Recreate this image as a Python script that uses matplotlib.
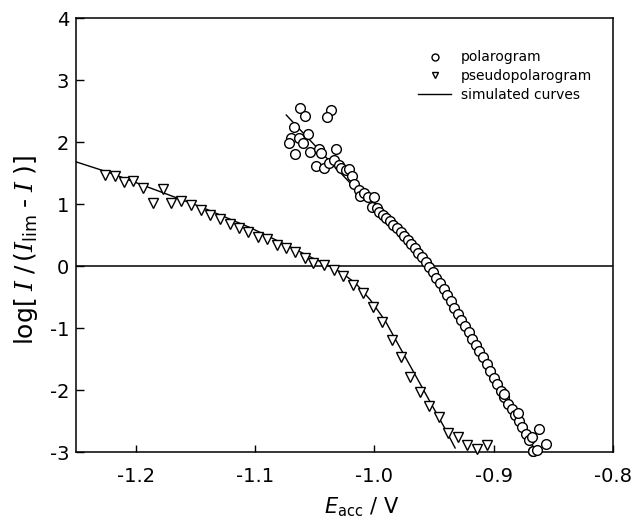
import matplotlib
matplotlib.use('Agg')
import matplotlib.pyplot as plt
from matplotlib.lines import Line2D

plt.rcParams.update({
    'font.family': 'DejaVu Sans',
    'axes.unicode_minus': False,
    'mathtext.fontset': 'custom',
    'mathtext.rm': 'DejaVu Sans',
    'mathtext.it': 'DejaVu Sans:italic',
    'mathtext.cal': 'DejaVu Serif:italic',
    'mathtext.bf': 'DejaVu Sans:bold',
    'mathtext.sf': 'DejaVu Sans',
})

# ---- data: pseudopolarogram (triangles) ----
pseudo_E = [-1.2258, -1.2174, -1.2096, -1.2021, -1.1937, -1.1854, -1.1775, -1.1700,
            -1.1616, -1.1538, -1.1455, -1.1374, -1.1296, -1.1212, -1.1135, -1.1056,
            -1.0976, -1.0897, -1.0817, -1.0738, -1.0661, -1.0581, -1.0516, -1.0418,
            -1.0340, -1.0259, -1.0176, -1.0098, -1.0014, -0.9936, -0.9855, -0.9777,
            -0.9699, -0.9618, -0.9540, -0.9462, -0.9379, -0.9300, -0.9220, -0.9139,
            -0.9055]
pseudo_log = [1.468, 1.456, 1.350, 1.371, 1.263, 1.011, 1.237, 1.021,
              1.053, 0.984, 0.903, 0.823, 0.758, 0.677, 0.608, 0.553,
              0.473, 0.431, 0.339, 0.298, 0.218, 0.137, 0.053, 0.016,
              -0.065, -0.161, -0.306, -0.440, -0.656, -0.898, -1.194, -1.473,
              -1.795, -2.027, -2.253, -2.431, -2.694, -2.758, -2.887, -2.944,
              -2.887]

# simulated curve for pseudopolarogram
pseudo_sim_E = [-1.2500, -1.2216, -1.1881, -1.1455, -1.1037, -1.0702, -1.0535,
                -1.0410, -1.0284, -1.0159, -1.0033, -0.9908, -0.9783, -0.9657,
                -0.9532, -0.9406, -0.9323]
pseudo_sim_log = [1.68, 1.503, 1.261, 0.955, 0.616, 0.306, 0.145,
                  0.032, -0.097, -0.274, -0.548, -0.887, -1.323, -1.758,
                  -2.194, -2.629, -2.935]

# ---- data: polarogram (circles) ----
polar_E = [-1.0619, -1.0362, -1.0577, -1.0399, -1.0677, -1.0558, -1.0697, -1.0633,
           -1.0717, -1.0600, -1.0661, -1.0543, -1.0466, -1.0320, -1.0446, -1.0493,
           -1.0418, -1.0376, -1.0334, -1.0293, -1.0278, -1.0237, -1.0215,
           -1.0186, -1.0167, -1.0131, -1.0119, -1.0084, -1.0056, -1.0000, -1.0019,
           -0.9981, -0.9958, -0.9925,
           -0.990, -0.987, -0.984, -0.981, -0.978, -0.975, -0.972, -0.969, -0.966,
           -0.963, -0.960, -0.957, -0.954, -0.951, -0.948, -0.945, -0.942, -0.939,
           -0.936, -0.933, -0.930, -0.927, -0.924, -0.921, -0.918, -0.915, -0.912,
           -0.909, -0.906, -0.903, -0.900, -0.897, -0.894, -0.891, -0.888, -0.885,
           -0.882, -0.879, -0.876, -0.873, -0.870, -0.867,
           -0.8913, -0.8793, -0.8620, -0.8559, -0.8676, -0.8668, -0.8635]
polar_log = [2.544, 2.516, 2.419, 2.408, 2.247, 2.124, 2.069, 2.069,
             1.989, 1.989, 1.806, 1.844, 1.882, 1.887, 1.827, 1.613,
             1.576, 1.666, 1.710, 1.629, 1.585, 1.548, 1.560,
             1.452, 1.318, 1.226, 1.129, 1.173, 1.108, 1.108, 0.956,
             0.931, 0.876, 0.823,
             0.77, 0.72, 0.66, 0.61, 0.55, 0.49, 0.42, 0.36, 0.29,
             0.21, 0.14, 0.06, -0.02, -0.10, -0.19, -0.28, -0.37, -0.47,
             -0.57, -0.67, -0.77, -0.87, -0.97, -1.07, -1.17, -1.27, -1.37,
             -1.47, -1.58, -1.69, -1.80, -1.91, -2.02, -2.12, -2.22, -2.31,
             -2.40, -2.50, -2.60, -2.71, -2.80, -2.98,
             -2.065, -2.366, -2.634, -2.871, -2.753, -2.984, -2.968]

# simulated curve for polarogram
polar_sim_E = [-1.0738, -1.0462, -1.0211, -1.0000, -0.9875, -0.9749, -0.9624,
               -0.9540, -0.9457, -0.9331, -0.9206, -0.9080, -0.8955, -0.8829,
               -0.8704, -0.8654]
polar_sim_log = [2.435, 1.871, 1.355, 0.935, 0.694, 0.452, 0.177,
                 -0.048, -0.306, -0.726, -1.161, -1.581, -2.000, -2.403,
                 -2.790, -2.968]

xticks = [-1.2, -1.1, -1.0, -0.9, -0.8]
xticklabels = ['-1.2', '-1.1', '-1.0', '-0.9', '-0.8']
yticks = [-3, -2, -1, 0, 1, 2, 3, 4]

fig = plt.figure(figsize=(6.37, 5.19), dpi=100)
ax = fig.add_axes([76/637, 1-452/519, (613-76)/637, (452-18)/519])

ax.axhline(0, color='black', lw=1.1, zorder=1)
ax.plot(pseudo_sim_E, pseudo_sim_log, color='black', lw=1.0, zorder=2)
ax.plot(polar_sim_E, polar_sim_log, color='black', lw=1.0, zorder=2)
ax.plot(pseudo_E, pseudo_log, linestyle='none', marker='v', ms=7, mfc='white',
        mec='black', mew=1.0, zorder=3, clip_on=False)
ax.plot(polar_E, polar_log, linestyle='none', marker='o', ms=7, mfc='white',
        mec='black', mew=1.0, zorder=3, clip_on=False)

ax.set_xlim(-1.25, -0.8)
ax.set_ylim(-3, 4)
ax.set_xticks(xticks)
ax.set_xticklabels(xticklabels)
ax.set_yticks(yticks)
ax.tick_params(axis='x', direction='in', length=5, width=1, labelsize=14, pad=11)
ax.tick_params(axis='y', direction='in', length=6, width=1, labelsize=14, pad=5)
for s in ax.spines.values():
    s.set_linewidth(1.1)

ax.set_xlabel(r'$E_{\mathrm{acc}}$ / V', fontsize=15)
ax.xaxis.set_label_coords(0.531, -0.100)
ax.set_ylabel(r'log[$\;\mathcal{I}\;$/$\,$($\mathcal{I}_{\mathrm{lim}}\;$-$\;\mathcal{I}\;$)]',
              fontsize=18)
ax.yaxis.set_label_coords(-0.067, 0.465)

handles = [
    Line2D([], [], linestyle='none', marker='o', ms=5, mfc='white', mec='black', mew=1.0),
    Line2D([], [], linestyle='none', marker='v', ms=5, mfc='white', mec='black', mew=1.0),
    Line2D([], [], color='black', lw=1.0),
]
ax.legend(handles, ['polarogram', 'pseudopolarogram', 'simulated curves'],
          loc='upper right', bbox_to_anchor=(0.985, 0.954), frameon=False,
          fontsize=10, handlelength=2.4, handletextpad=0.7, labelspacing=0.35,
          numpoints=1)

fig.savefig('out.png', dpi=100)
